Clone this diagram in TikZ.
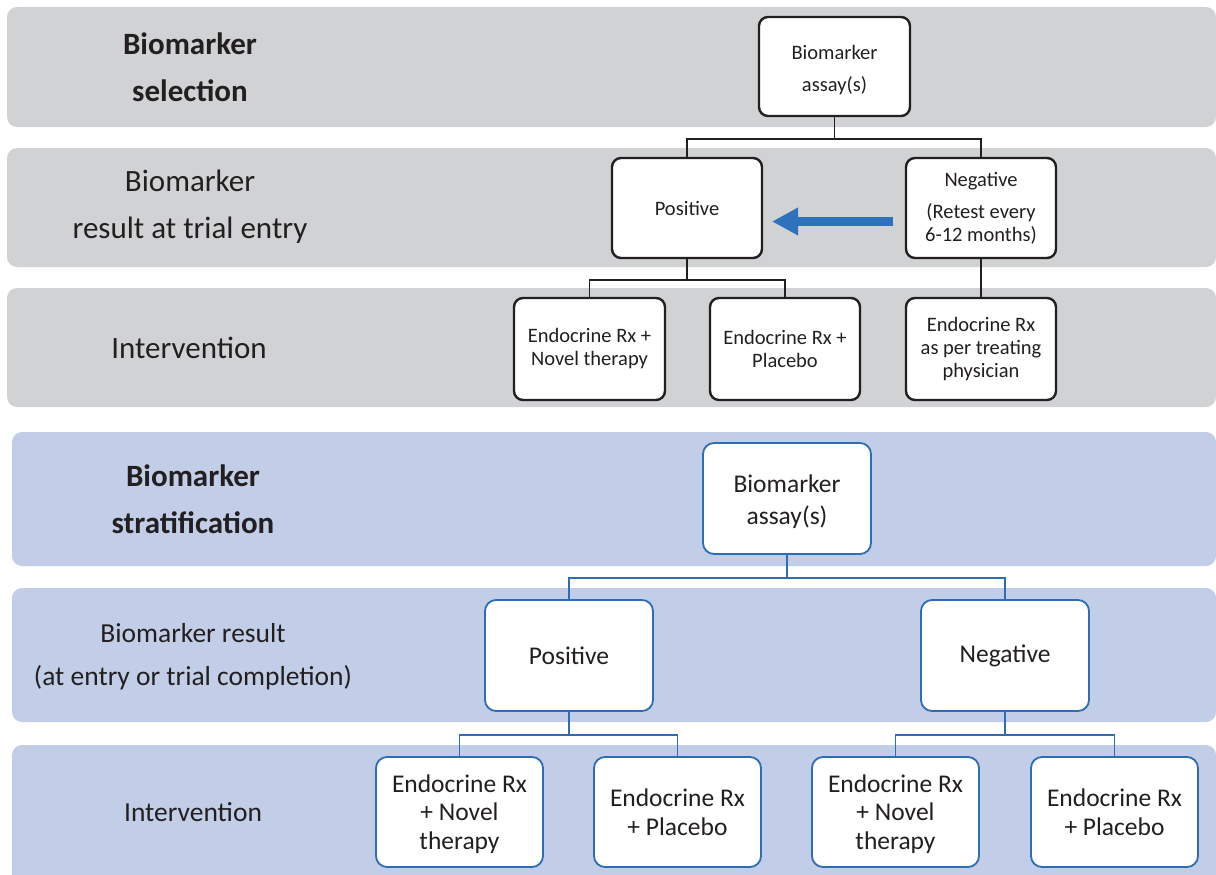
\documentclass[tikz,border=0pt]{standalone}
\usepackage{fontspec}
\setmainfont{Carlito}
\usetikzlibrary{arrows.meta}
\definecolor{bandgray}{HTML}{D1D2D4}
\definecolor{bandblue}{HTML}{C2CEE8}
\definecolor{lineblue}{HTML}{2E6DB4}
\definecolor{arrowblue}{HTML}{2F72BC}
\definecolor{ink}{HTML}{231F20}
\begin{document}
\begin{tikzpicture}[x=1pt,y=-1pt,
  graybandstyle/.style={fill=bandgray,rounded corners=10pt},
  bluebandstyle/.style={fill=bandblue,rounded corners=10pt},
  labelbig/.style={text=ink,align=center,font=\fontsize{31}{47}\selectfont},
  labelmid/.style={text=ink,align=center,font=\fontsize{27.5}{43}\selectfont},
  topbox/.style={draw=ink,line width=2.4pt,fill=white,rounded corners=9pt,align=center,text=ink,
    font=\fontsize{20.5}{23}\selectfont,inner sep=0pt},
  botbox/.style={draw=lineblue,line width=1.8pt,fill=white,rounded corners=11pt,align=center,text=ink,
    font=\fontsize{25.5}{28.5}\selectfont,inner sep=0pt},
  topline/.style={draw=ink,line width=1.5pt},
  botline/.style={draw=lineblue,line width=1.8pt},
]
\useasboundingbox (0,0) rectangle (1216,875);
\fill[white] (0,0) rectangle (1216,875);
% bands
\fill[graybandstyle] (7,7) rectangle (1216,127);
\fill[graybandstyle] (7,148) rectangle (1216,267);
\fill[graybandstyle] (7,288) rectangle (1216,407);
\fill[bluebandstyle] (12,432) rectangle (1216,566);
\fill[bluebandstyle] (12,588) rectangle (1216,722);
\fill[bluebandstyle] (12,745) rectangle (1216,890);
% left labels
\node[labelbig,font=\fontsize{31}{47}\selectfont\bfseries] (l1) at (190,67) {Biomarker\\selection};
\node[labelbig] (l2) at (190,207) {Biomarker\\result at trial entry};
\node[labelbig] (l3) at (189,348) {Intervention};
\node[labelbig,font=\fontsize{31}{47}\selectfont\bfseries] (l4) at (193,499) {Biomarker\\stratification};
\node[labelmid] (l5) at (193,657) {Biomarker result\\(at entry or trial completion)};
\node[labelmid] (l6) at (193,812) {Intervention};
% top diagram
\node[topbox,minimum width=151pt,minimum height=99pt] (a1) at (834.5,66.5) {\rule{0pt}{21pt}Biomarker\\[9pt]assay(s)};
\node[topbox,minimum width=150pt,minimum height=100pt] (pos1) at (687,208) {Positive};
\node[topbox,minimum width=150pt,minimum height=100pt] (neg1) at (981,208) {Negative\\[9pt](Retest every\\6-12 months)};
\node[topbox,minimum width=151pt,minimum height=102pt] (i1) at (589.5,349) {Endocrine Rx +\\Novel therapy};
\node[topbox,minimum width=150pt,minimum height=102pt] (i2) at (785,349) {Endocrine Rx +\\Placebo};
\node[topbox,minimum width=150pt,minimum height=102pt] (i3) at (981,349) {Endocrine Rx\\as per treating\\physician};
\draw[topline] (a1.south) -- ++(0,22) -| (pos1.north);
\draw[topline] (a1.south) -- ++(0,22) -| (neg1.north);
\draw[topline] (pos1.south) -- ++(0,21) -| (i1.north);
\draw[topline] (pos1.south) -- ++(0,21) -| (i2.north);
\draw[topline] (neg1.south) -- (i3.north);
\coordinate (arrs) at (893,221.5);
\coordinate (arre) at (772,221.5);
\draw[arrowblue,line width=9pt,-{Triangle[length=26pt,width=26pt]}] (arrs) -- (arre);
% bottom diagram
\node[botbox,minimum width=168pt,minimum height=111pt] (a2) at (787,498.5) {\rule{0pt}{25pt}Biomarker\\[3.5pt]assay(s)};
\node[botbox,minimum width=168pt,minimum height=111pt] (pos2) at (569,655.5) {Positive};
\node[botbox,minimum width=168pt,minimum height=111pt] (neg2) at (1005,655.5) {Negative};
\node[botbox,minimum width=167pt,minimum height=110pt] (b1) at (459.5,812) {\rule{0pt}{22pt}Endocrine Rx\\+ Novel\\therapy};
\node[botbox,minimum width=167pt,minimum height=110pt] (b2) at (677.5,812) {Endocrine Rx\\+ Placebo};
\node[botbox,minimum width=167pt,minimum height=110pt] (b3) at (895.5,812) {\rule{0pt}{22pt}Endocrine Rx\\+ Novel\\therapy};
\node[botbox,minimum width=167pt,minimum height=110pt] (b4) at (1114.5,812) {Endocrine Rx\\+ Placebo};
\draw[botline] (a2.south) -- ++(0,23) -| (pos2.north);
\draw[botline] (a2.south) -- ++(0,23) -| (neg2.north);
\draw[botline] (pos2.south) -- ++(0,23) -| (b1.north);
\draw[botline] (pos2.south) -- ++(0,23) -| (b2.north);
\draw[botline] (neg2.south) -- ++(0,23) -| (b3.north);
\draw[botline] (neg2.south) -- ++(0,23) -| (b4.north);
\end{tikzpicture}
\end{document}
